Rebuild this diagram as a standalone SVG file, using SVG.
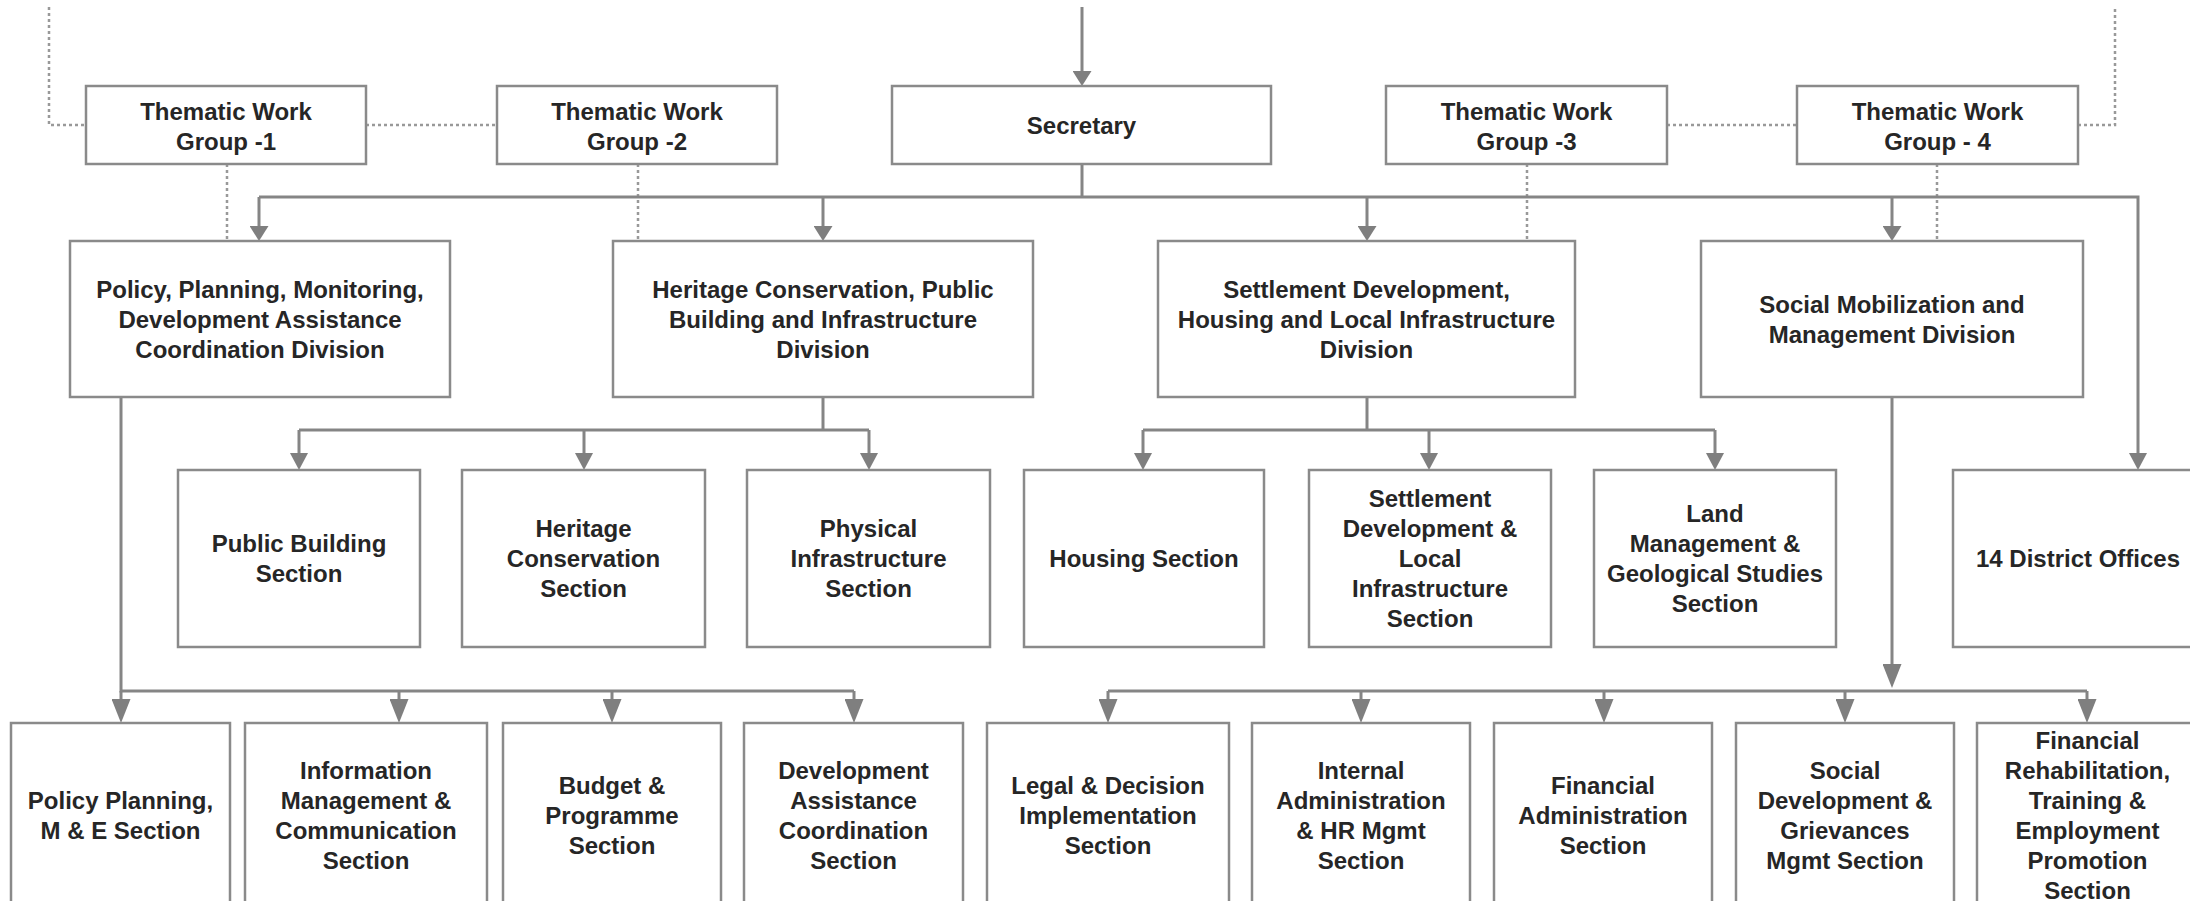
<svg xmlns="http://www.w3.org/2000/svg" width="2190" height="901" viewBox="0 0 2190 901">
<style>
.box{fill:#ffffff;stroke:#8a8a8a;stroke-width:2.5}
.ln{fill:none;stroke:#858585;stroke-width:3}
.dot{fill:none;stroke:#999999;stroke-width:2.5;stroke-dasharray:3 3}
.t{font-family:"Liberation Sans",Arial,sans-serif;font-weight:bold;font-size:24px;fill:#262626;text-anchor:middle;dominant-baseline:central}
</style>
<defs>
<marker id="aT" markerUnits="userSpaceOnUse" markerWidth="15" markerHeight="19" viewBox="0 0 15 19" refX="10" refY="9.5" orient="auto"><path d="M0,0L15,9.5L0,19z" fill="#7f7f7f"/></marker>
<marker id="aM" markerUnits="userSpaceOnUse" markerWidth="17" markerHeight="18" viewBox="0 0 17 18" refX="12" refY="9" orient="auto"><path d="M0,0L17,9L0,18z" fill="#7f7f7f"/></marker>
<marker id="aB" markerUnits="userSpaceOnUse" markerWidth="24" markerHeight="19" viewBox="0 0 24 19" refX="19" refY="9.5" orient="auto"><path d="M0,0L24,9.5L0,19z" fill="#7f7f7f"/></marker>
</defs>
<rect width="2190" height="901" fill="#ffffff"/>
<g id="connectors">
<path class="dot" d="M49,7V125H86"/>
<path class="dot" d="M366,125H497"/>
<path class="dot" d="M1667,125H1797"/>
<path class="dot" d="M2078,125H2115V7"/>
<path class="dot" d="M227,164V241"/>
<path class="dot" d="M638,164V241"/>
<path class="dot" d="M1527,164V241"/>
<path class="dot" d="M1937,164V241"/>
<path class="ln" d="M1082,7V81" marker-end="url(#aT)"/>
<path class="ln" d="M1082,164V197"/>
<path class="ln" d="M259,197H2138V465" marker-end="url(#aM)"/>
<path class="ln" d="M259,197V236" marker-end="url(#aT)"/>
<path class="ln" d="M823,197V236" marker-end="url(#aT)"/>
<path class="ln" d="M1367,197V236" marker-end="url(#aT)"/>
<path class="ln" d="M1892,197V236" marker-end="url(#aT)"/>
<path class="ln" d="M823,397V430"/>
<path class="ln" d="M299,430H869"/>
<path class="ln" d="M299,430V465" marker-end="url(#aM)"/>
<path class="ln" d="M584,430V465" marker-end="url(#aM)"/>
<path class="ln" d="M869,430V465" marker-end="url(#aM)"/>
<path class="ln" d="M1367,397V430"/>
<path class="ln" d="M1143,430H1715"/>
<path class="ln" d="M1143,430V465" marker-end="url(#aM)"/>
<path class="ln" d="M1429,430V465" marker-end="url(#aM)"/>
<path class="ln" d="M1715,430V465" marker-end="url(#aM)"/>
<path class="ln" d="M121,397V691H854"/>
<path class="ln" d="M121,691V718" marker-end="url(#aB)"/>
<path class="ln" d="M399,691V718" marker-end="url(#aB)"/>
<path class="ln" d="M612,691V718" marker-end="url(#aB)"/>
<path class="ln" d="M854,691V718" marker-end="url(#aB)"/>
<path class="ln" d="M1892,397V683" marker-end="url(#aB)"/>
<path class="ln" d="M1108,691H2087"/>
<path class="ln" d="M1108,691V718" marker-end="url(#aB)"/>
<path class="ln" d="M1361,691V718" marker-end="url(#aB)"/>
<path class="ln" d="M1604,691V718" marker-end="url(#aB)"/>
<path class="ln" d="M1845,691V718" marker-end="url(#aB)"/>
<path class="ln" d="M2087,691V718" marker-end="url(#aB)"/>
</g>
<g id="twg1"><rect class="box" x="86" y="86" width="280" height="78"/><text class="t" x="226" y="111">Thematic Work</text><text class="t" x="226" y="141">Group -1</text></g>
<g id="twg2"><rect class="box" x="497" y="86" width="280" height="78"/><text class="t" x="637" y="111">Thematic Work</text><text class="t" x="637" y="141">Group -2</text></g>
<g id="secretary"><rect class="box" x="892" y="86" width="379" height="78"/><text class="t" x="1081.5" y="125">Secretary</text></g>
<g id="twg3"><rect class="box" x="1386" y="86" width="281" height="78"/><text class="t" x="1526.5" y="111">Thematic Work</text><text class="t" x="1526.5" y="141">Group -3</text></g>
<g id="twg4"><rect class="box" x="1797" y="86" width="281" height="78"/><text class="t" x="1937.5" y="111">Thematic Work</text><text class="t" x="1937.5" y="141">Group - 4</text></g>
<g id="div-policy"><rect class="box" x="70" y="241" width="380" height="156"/><text class="t" x="260" y="289">Policy, Planning, Monitoring,</text><text class="t" x="260" y="319">Development Assistance</text><text class="t" x="260" y="349">Coordination Division</text></g>
<g id="div-heritage"><rect class="box" x="613" y="241" width="420" height="156"/><text class="t" x="823" y="289">Heritage Conservation, Public</text><text class="t" x="823" y="319">Building and Infrastructure</text><text class="t" x="823" y="349">Division</text></g>
<g id="div-settlement"><rect class="box" x="1158" y="241" width="417" height="156"/><text class="t" x="1366.5" y="289">Settlement Development,</text><text class="t" x="1366.5" y="319">Housing and Local Infrastructure</text><text class="t" x="1366.5" y="349">Division</text></g>
<g id="div-social"><rect class="box" x="1701" y="241" width="382" height="156"/><text class="t" x="1892" y="304">Social Mobilization and</text><text class="t" x="1892" y="334">Management Division</text></g>
<g id="sec-public-building"><rect class="box" x="178" y="470" width="242" height="177"/><text class="t" x="299" y="543">Public Building</text><text class="t" x="299" y="573">Section</text></g>
<g id="sec-heritage"><rect class="box" x="462" y="470" width="243" height="177"/><text class="t" x="583.5" y="528">Heritage</text><text class="t" x="583.5" y="558">Conservation</text><text class="t" x="583.5" y="588">Section</text></g>
<g id="sec-physical"><rect class="box" x="747" y="470" width="243" height="177"/><text class="t" x="868.5" y="528">Physical</text><text class="t" x="868.5" y="558">Infrastructure</text><text class="t" x="868.5" y="588">Section</text></g>
<g id="sec-housing"><rect class="box" x="1024" y="470" width="240" height="177"/><text class="t" x="1144" y="558">Housing Section</text></g>
<g id="sec-settlement"><rect class="box" x="1309" y="470" width="242" height="177"/><text class="t" x="1430" y="498">Settlement</text><text class="t" x="1430" y="528">Development &amp;</text><text class="t" x="1430" y="558">Local</text><text class="t" x="1430" y="588">Infrastructure</text><text class="t" x="1430" y="618">Section</text></g>
<g id="sec-land"><rect class="box" x="1594" y="470" width="242" height="177"/><text class="t" x="1715" y="513">Land</text><text class="t" x="1715" y="543">Management &amp;</text><text class="t" x="1715" y="573">Geological Studies</text><text class="t" x="1715" y="603">Section</text></g>
<g id="district-offices"><rect class="box" x="1953" y="470" width="250" height="177"/><text class="t" x="2078" y="558">14 District Offices</text></g>
<g id="sec-policy-planning"><rect class="box" x="11" y="723" width="219" height="186"/><text class="t" x="120.5" y="800">Policy Planning,</text><text class="t" x="120.5" y="830">M &amp; E Section</text></g>
<g id="sec-information"><rect class="box" x="245" y="723" width="242" height="186"/><text class="t" x="366" y="770">Information</text><text class="t" x="366" y="800">Management &amp;</text><text class="t" x="366" y="830">Communication</text><text class="t" x="366" y="860">Section</text></g>
<g id="sec-budget"><rect class="box" x="503" y="723" width="218" height="186"/><text class="t" x="612" y="785">Budget &amp;</text><text class="t" x="612" y="815">Programme</text><text class="t" x="612" y="845">Section</text></g>
<g id="sec-dev-assistance"><rect class="box" x="744" y="723" width="219" height="186"/><text class="t" x="853.5" y="770">Development</text><text class="t" x="853.5" y="800">Assistance</text><text class="t" x="853.5" y="830">Coordination</text><text class="t" x="853.5" y="860">Section</text></g>
<g id="sec-legal"><rect class="box" x="987" y="723" width="242" height="186"/><text class="t" x="1108" y="785">Legal &amp; Decision</text><text class="t" x="1108" y="815">Implementation</text><text class="t" x="1108" y="845">Section</text></g>
<g id="sec-internal-admin"><rect class="box" x="1252" y="723" width="218" height="186"/><text class="t" x="1361" y="770">Internal</text><text class="t" x="1361" y="800">Administration</text><text class="t" x="1361" y="830">&amp; HR Mgmt</text><text class="t" x="1361" y="860">Section</text></g>
<g id="sec-financial-admin"><rect class="box" x="1494" y="723" width="218" height="186"/><text class="t" x="1603" y="785">Financial</text><text class="t" x="1603" y="815">Administration</text><text class="t" x="1603" y="845">Section</text></g>
<g id="sec-social-dev"><rect class="box" x="1736" y="723" width="218" height="186"/><text class="t" x="1845" y="770">Social</text><text class="t" x="1845" y="800">Development &amp;</text><text class="t" x="1845" y="830">Grievances</text><text class="t" x="1845" y="860">Mgmt Section</text></g>
<g id="sec-financial-rehab"><rect class="box" x="1977" y="723" width="221" height="186"/><text class="t" x="2087.5" y="740">Financial</text><text class="t" x="2087.5" y="770">Rehabilitation,</text><text class="t" x="2087.5" y="800">Training &amp;</text><text class="t" x="2087.5" y="830">Employment</text><text class="t" x="2087.5" y="860">Promotion</text><text class="t" x="2087.5" y="890">Section</text></g>
</svg>
